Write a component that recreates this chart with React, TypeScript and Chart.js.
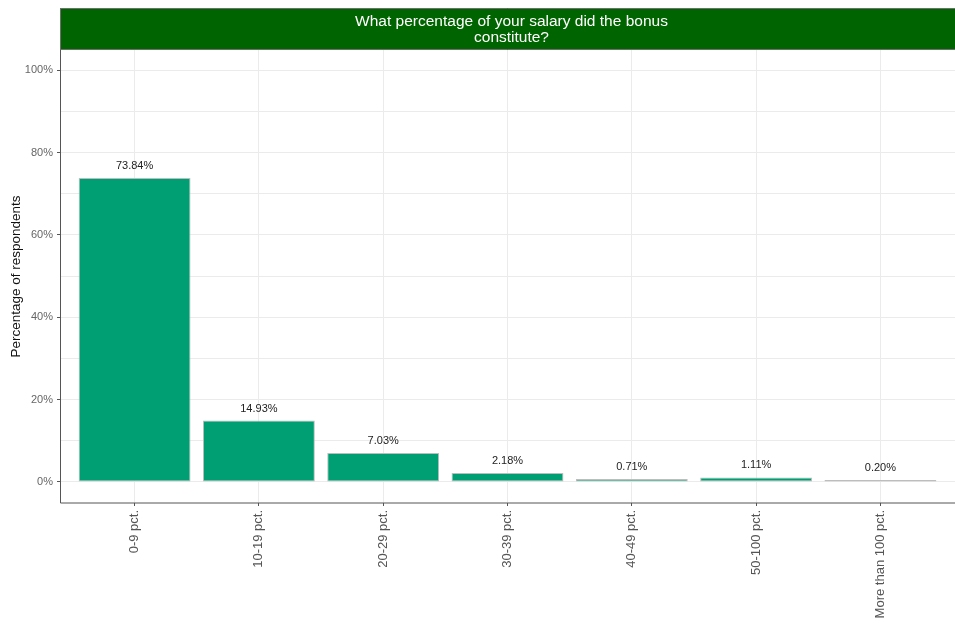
import React, { useEffect, useRef } from "react";
import { Chart, registerables } from "chart.js";

Chart.register(...registerables);

const categories = ["0-9 pct.", "10-19 pct.", "20-29 pct.", "30-39 pct.", "40-49 pct.", "50-100 pct.", "More than 100 pct."];
const percentages = [73.84, 14.93, 7.03, 2.18, 0.71, 1.11, 0.2];
const yTicks = [0, 10, 20, 30, 40, 50, 60, 70, 80, 90, 100];
const yLabelled = [0, 20, 40, 60, 80, 100];
const titleLines = ["What percentage of your salary did the bonus", "constitute?"];
const yAxisTitle = "Percentage of respondents";

const FONT = "'Liberation Sans', Arial, sans-serif";

const stripPlugin = {
  id: "strip",
  afterDraw(chart: any) {
    const { ctx, chartArea } = chart;
    const left = chartArea.left;
    const right = chartArea.right;
    const top = 8;
    const bottom = chartArea.top;
    ctx.save();
    ctx.fillStyle = "#006400";
    ctx.fillRect(left, top, right - left, bottom - top);
    ctx.strokeStyle = "#6e6e6e";
    ctx.lineWidth = 1;
    ctx.beginPath();
    ctx.moveTo(left, top + 0.5);
    ctx.lineTo(right, top + 0.5);
    ctx.moveTo(left, bottom - 0.5);
    ctx.lineTo(right, bottom - 0.5);
    ctx.moveTo(left + 0.5, top);
    ctx.lineTo(left + 0.5, bottom);
    ctx.stroke();
    ctx.fillStyle = "#ffffff";
    ctx.font = `15.5px ${FONT}`;
    ctx.textAlign = "center";
    ctx.textBaseline = "middle";
    const cx = (left + right) / 2 + 4;
    ctx.fillText(titleLines[0], cx, 22);
    ctx.fillText(titleLines[1], cx, 38);
    // axis lines
    ctx.strokeStyle = "#555555";
    ctx.beginPath();
    ctx.moveTo(left + 0.5, chartArea.top);
    ctx.lineTo(left + 0.5, chartArea.bottom);
    ctx.lineTo(right, chartArea.bottom);
    ctx.stroke();
    ctx.restore();
  },
};

const valueLabelPlugin = {
  id: "valueLabels",
  afterDatasetsDraw(chart: any) {
    const { ctx } = chart;
    const meta = chart.getDatasetMeta(0);
    ctx.save();
    ctx.fillStyle = "#222222";
    ctx.font = `11px ${FONT}`;
    ctx.textAlign = "center";
    ctx.textBaseline = "middle";
    meta.data.forEach((el: any, i: number) => {
      ctx.fillText(percentages[i].toFixed(2) + "%", el.x, el.y - 12);
    });
    ctx.restore();
  },
};

function BarChart() {
  const ref = useRef<HTMLCanvasElement | null>(null);
  useEffect(() => {
    if (!ref.current) return;
    const chart = new Chart(ref.current, {
      type: "bar",
      data: {
        datasets: [
          {
            data: percentages.map((v, i) => ({ x: i, y: v })),
            backgroundColor: "#009E73",
            borderColor: "#bdbdbd",
            borderWidth: 1,
            borderSkipped: false,
            minBarLength: 2,
            barPercentage: 0.9,
            categoryPercentage: 1,
          },
        ],
      },
      options: {
        animation: false,
        responsive: false,
        maintainAspectRatio: false,
        layout: { padding: { top: 50, right: 0, left: 0, bottom: 0 } },
        plugins: { legend: { display: false }, tooltip: { enabled: false }, title: { display: false } },
        scales: {
          x: {
            type: "linear",
            offset: false,
            min: -0.6,
            max: 6.6,
            afterBuildTicks: (axis: any) => {
              axis.ticks = categories.map((_, i) => ({ value: i }));
            },
            afterFit: (axis: any) => {
              axis.height = 120;
            },
            ticks: {
              autoSkip: false,
              minRotation: 90,
              maxRotation: 90,
              padding: 4,
              color: "#555555",
              font: { family: FONT, size: 13 },
              callback: (v: any) => categories[Math.round(Number(v))] ?? "",
            },
            grid: { offset: false, color: "#ebebeb", lineWidth: 1, drawTicks: true, tickLength: 3, tickColor: "#555555" },
            border: { display: false },
          },
          y: {
            min: -5.1,
            max: 104.9,
            afterBuildTicks: (axis: any) => {
              axis.ticks = yTicks.map((v) => ({ value: v }));
            },
            afterFit: (axis: any) => {
              axis.width = 60;
            },
            ticks: {
              padding: 4,
              color: "#666666",
              font: { family: FONT, size: 11 },
              callback: (v: any) => (yLabelled.includes(Number(v)) ? `${v}%` : ""),
            },
            grid: {
              color: "#ebebeb",
              lineWidth: 1,
              drawTicks: true,
              tickLength: 3,
              tickColor: (c: any) => (yLabelled.includes(c.tick?.value) ? "#555555" : "rgba(0,0,0,0)"),
            },
            border: { display: false },
            title: {
              display: true,
              text: yAxisTitle,
              color: "#111111",
              font: { family: FONT, size: 13.5 },
              padding: { top: 8, bottom: 2 },
            },
          },
        },
      },
      plugins: [stripPlugin, valueLabelPlugin],
    } as any);
    return () => chart.destroy();
  }, []);
  return <canvas ref={ref} width={955} height={623} style={{ display: "block" }} />;
}

export default function App() {
  return (
    <div style={{ position: "absolute", left: 0, top: 0, width: 955, height: 623, background: "#ffffff" }}>
      <BarChart />
    </div>
  );
}
